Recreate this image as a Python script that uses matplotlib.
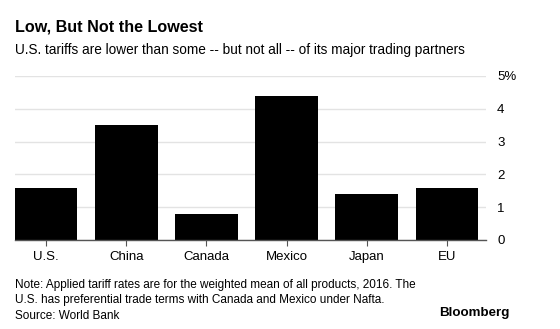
import matplotlib.pyplot as plt

plt.rcParams['font.family'] = ['Liberation Sans', 'DejaVu Sans']

countries = ['U.S.', 'China', 'Canada', 'Mexico', 'Japan', 'EU']
tariffs = [1.6, 3.5, 0.8, 4.4, 1.4, 1.6]
yticks = [0, 1, 2, 3, 4, 5]
ytick_labels = ['0', '1', '2', '3', '4', '5%']

fig = plt.figure(figsize=(5.6, 3.29), dpi=100)
ax = fig.add_axes([15 / 560, 1 - 240 / 329, (486 - 15) / 560, (240 - 76) / 329])

x = range(len(countries))
ax.bar(x, tariffs, width=0.78, color='black', zorder=3)

ax.set_xlim(-0.39, 5.49)
ax.set_ylim(0, 5)
ax.set_yticks(yticks)
ax.set_yticklabels(ytick_labels)
ax.yaxis.tick_right()
ax.tick_params(axis='y', length=0, pad=8, labelsize=9.5, colors='black')
ax.set_xticks(list(x))
ax.set_xticklabels(countries)
ax.tick_params(axis='x', length=4, width=0.8, color='#555555', pad=4, labelsize=9.5)

ax.grid(axis='y', color='#e3e3e3', linewidth=1, zorder=0)
for s in ['top', 'right', 'left']:
    ax.spines[s].set_visible(False)
ax.spines['bottom'].set_color('#555555')
ax.spines['bottom'].set_linewidth(1)
ax.spines['bottom'].set_zorder(4)

fig.text(15 / 560, 1 - 27 / 329, 'Low, But Not the Lowest', fontsize=11.6,
         fontweight='bold', va='center', ha='left')
fig.text(15 / 560, 1 - 50 / 329,
         'U.S. tariffs are lower than some -- but not all -- of its major trading partners',
         fontsize=9.8, va='center', ha='left')

note = ('Note: Applied tariff rates are for the weighted mean of all products, 2016. The\n'
        'U.S. has preferential trade terms with Canada and Mexico under Nafta.\n'
        'Source: World Bank')
fig.text(15 / 560, 1 - 279 / 329, note, fontsize=8.5, va='top', ha='left',
         linespacing=1.38)
fig.text(510 / 560, 1 - 313 / 329, 'Bloomberg', fontsize=9.6, fontweight='bold',
         va='center', ha='right')

fig.savefig('out.png', dpi=100)
